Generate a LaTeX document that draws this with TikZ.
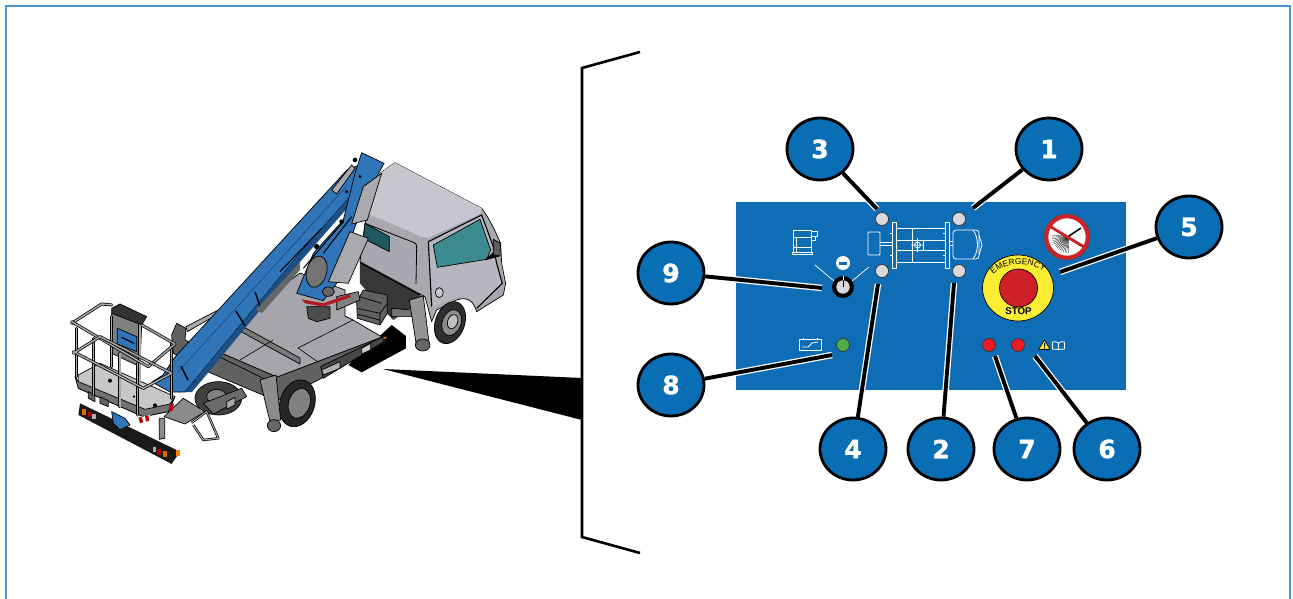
\documentclass[tikz,border=0pt]{standalone}
\usepackage{fontspec}
\setmainfont{Liberation Sans}
\newfontfamily\ballfont[BoldFeatures={FakeBold=1.4}]{DejaVu Sans}
\usetikzlibrary{shapes.geometric,backgrounds,decorations.text}

\definecolor{framec}{HTML}{4F94D8}
\definecolor{panelc}{HTML}{0F6DB5}
\definecolor{ballc}{HTML}{0A6EB4}
\definecolor{ledgrey}{HTML}{D9D9DB}
\definecolor{ledgreen}{HTML}{4FAE4A}
\definecolor{ledred}{HTML}{ED1C24}
\definecolor{stopred}{HTML}{CF2027}
\definecolor{stopyel}{HTML}{FBEC34}
\definecolor{cabtop}{HTML}{C6C7CE}
\definecolor{cabside}{HTML}{A8A9B0}
\definecolor{cabdoor}{HTML}{B6B7BE}
\definecolor{tealf}{HTML}{3B8B90}
\definecolor{tealr}{HTML}{1C5A60}
\definecolor{deckc}{HTML}{A5A5AB}
\definecolor{railc}{HTML}{A9A9AE}
\definecolor{boomc}{HTML}{2F75B8}
\definecolor{boomd}{HTML}{1C4F85}

\tikzset{
  zthree/.style={shift={(280,140)},x=0.3333pt,y=-0.3333pt},
  ztwo/.style={shift={(60,140)},x=0.3333pt,y=-0.3333pt},
  balloon/.style={ellipse,draw=black,line width=2.8pt,fill=ballc,text=white,inner sep=0pt,
    minimum width=66pt,minimum height=62pt,font=\ballfont\fontsize{25}{25}\selectfont\bfseries},
  leader/.style={draw=black,line width=3.9pt,preaction={draw=white,line width=6.4pt}},
  led/.style={circle,draw=black!80,line width=0.7pt,inner sep=0pt,minimum size=13pt},
  icon/.style={draw=white,line width=0.8pt,line join=round},
  part/.style={draw=black,line width=0.7pt,line join=round},
  rail/.style={draw=black,line width=3pt,line join=round,line cap=round,
    postaction={draw=railc,line width=1.5pt}},
}

\begin{document}
\begin{tikzpicture}[x=1pt,y=-1pt]
  \useasboundingbox (0,0) rectangle (1293,599);
  \draw[framec,line width=1.6pt] (6,599) -- (6,6) -- (1290,6) -- (1290,599);

  % ---- truck, cab end
  \begin{scope}[zthree]
    \fill[black] (335,555) -- (378,588) -- (378,625) -- (245,697) -- (205,675) -- cycle;
    \filldraw[part,fill=cabside] (345,68) -- (605,205) .. controls (635,245) and (650,285) .. (662,310)
      -- (665,370) -- (677,430) -- (670,465) -- (590,515) .. controls (580,480) and (560,470) .. (530,480)
      -- (470,510) -- (455,545) -- (435,470) -- (240,365) -- (255,250) -- (300,100) -- cycle;
    \fill[cabtop] (345,68) -- (605,205) -- (600,222) -- (445,293) -- (420,290) .. controls (405,280) and (400,280) .. (385,272)
      -- (265,222) -- (300,100) -- cycle;
    \fill[cabdoor] (445,305) -- (605,225) -- (640,320) -- (665,430) -- (590,505) .. controls (580,470) and (550,465) .. (520,475)
      -- (460,500) -- (452,430) -- cycle;
    \draw[black,line width=1.1pt,line join=round] (445,305) -- (605,225) -- (640,320) -- (650,370) -- (667,430) -- (590,505);
    \draw[black,line width=1.1pt] (445,305) -- (455,500);
    \draw[black,line width=0.8pt] (410,325) .. controls (412,312) and (405,308) .. (395,305) -- (255,250);
    \draw[black,line width=0.8pt] (410,325) -- (408,432);
    \filldraw[part,fill=tealr] (255,250) -- (328,290) -- (328,335) -- (250,295) -- cycle;
    \filldraw[part,fill=tealf] (460,315) -- (600,238) -- (632,330) -- (620,358) -- (472,382) -- cycle;
    \filldraw[part,fill=black] (615,360) -- (640,338) -- (658,348) -- cycle;
    \filldraw[part,fill=black!45!cabside] (640,298) -- (662,310) -- (660,348) -- (640,345) -- cycle;
    \filldraw[part,fill=cabtop] (478,458) ellipse [x radius=12,y radius=15];
    % front wheel
    \filldraw[part,fill=black!82] (510,548) ellipse [x radius=44,y radius=65,rotate=-20];
    \filldraw[part,fill=black!45] (515,548) ellipse [x radius=28,y radius=40,rotate=-20];
    \filldraw[part,fill=black!25] (518,545) ellipse [x radius=15,y radius=22,rotate=-20];
    % underside
    \fill[black!78] (240,365) -- (425,468) -- (415,490) -- (340,540) -- (300,500) -- (240,430) -- cycle;
    \draw[black,line width=1pt] (240,368) -- (420,465);
    \filldraw[part,fill=black!55] (335,505) -- (395,510) -- (395,530) -- (335,530) -- cycle;
    % front outrigger
    \filldraw[part,fill=black!42] (388,480) -- (430,468) -- (447,608) -- (408,608) -- cycle;
    \filldraw[part,fill=black!60] (428,615) ellipse [x radius=22,y radius=18];
    % counterweight
    \filldraw[part,fill=black!62] (230,485) -- (250,450) -- (322,465) -- (322,520) -- (300,555) -- (232,535) -- cycle;
    \draw[black,line width=0.7pt] (232,505) -- (300,520) -- (322,490) (238,470) -- (305,490) (300,520) -- (300,555) (232,522) -- (298,540);
  \end{scope}

  % ---- chassis and deck
  \filldraw[part,fill=black!62] (203,345) -- (277,377) -- (382,337) -- (388,340) -- (322,378) -- (280,400) -- (203,365) -- cycle;
  \filldraw[part,fill=deckc] (203,345) -- (300,273) -- (345,290) -- (345,316) -- (353,320) -- (382,337) -- (277,377) -- cycle;
  \filldraw[part,fill=black!52] (240,325) -- (300,358) -- (300,364) -- (238,330) -- cycle;
  \draw[black,line width=0.6pt] (298,348) -- (353,320) (298,348) -- (318,362) (240,360) -- (273,340);
  \begin{scope}[zthree]
    \filldraw[part,fill=black!72] (122,680) -- (305,592) -- (320,600) -- (130,715) -- cycle;
    \filldraw[part,fill=black!30] (125,690) -- (180,665) -- (180,685) -- (130,705) -- cycle;
    \filldraw[part,fill=orange!85!black] (308,592) -- (320,586) -- (320,596) -- (310,600) -- cycle;
    \filldraw[part,fill=black!20] (245,625) -- (272,610) -- (272,630) -- (245,642) -- cycle;
  \end{scope}

  % ---- truck, rear part
  \begin{scope}[ztwo]
    \filldraw[part,fill=black!75] (475,775) ellipse [x radius=70,y radius=50];
    \filldraw[part,fill=black!50] (470,770) ellipse [x radius=30,y radius=22];
    \filldraw[part,fill=black!58] (430,790) -- (545,745) -- (560,770) -- (460,822) -- cycle;
    \filldraw[part,fill=black!35] (500,785) -- (525,772) -- (525,795) -- (500,808) -- cycle;
    \filldraw[part,fill=black!62] (335,585) -- (350,550) -- (378,565) -- (375,600) -- (620,720) -- (620,770) -- (430,690) -- (340,640) -- cycle;
    \filldraw[part,fill=railc] (378,560) -- (475,510) -- (478,520) -- (382,575) -- cycle;
    % rear wheel
    \filldraw[part,fill=black!85] (712,790) ellipse [x radius=52,y radius=72,rotate=-18];
    \filldraw[part,fill=black!50] (718,790) ellipse [x radius=32,y radius=46,rotate=-18];
    % rear outrigger
    \filldraw[part,fill=black!45] (600,720) -- (648,705) -- (662,840) -- (630,845) -- cycle;
    \filldraw[part,fill=black!60] (642,857) ellipse [x radius=20,y radius=18];
    % steps
    \filldraw[part,fill=black!45] (298,835) -- (314,835) -- (314,895) -- (298,898) -- cycle;
    \filldraw[part,fill=black!45] (370,775) -- (435,815) -- (375,852) -- (312,830) -- cycle;
    \draw[black,line width=2.4pt,line join=round] (395,848) -- (440,815) -- (475,895) -- (430,900) -- (400,855);
    \draw[railc,line width=1pt,line join=round] (395,848) -- (440,815) -- (475,895) -- (430,900) -- (400,855);
    % rear bar
    \fill[black!90] (60,790) -- (360,935) -- (335,972) -- (55,825) -- cycle;
    \fill[orange!85!black] (67,808) rectangle (78,824);
    \fill[red!70!black] (83,815) rectangle (95,832);
    \fill[black!30] (97,822) rectangle (108,838);
    \fill[black!30] (278,920) rectangle (289,936);
    \fill[red!70!black] (292,927) rectangle (304,945);
    \fill[orange!85!black] (308,934) rectangle (320,952);
    \fill[orange] (348,930) rectangle (360,948);
  \end{scope}

  % ---- boom
  \filldraw[part,fill=boomc] (152,382) -- (163,375) -- (175,357) -- (347,170) -- (372,160) -- (350,197) -- (300,253) -- (185,392) -- (170,392) -- cycle;
  \fill[boomd] (185,392) -- (300,253) -- (350,197) -- (350,205) -- (300,262) -- (192,392) -- cycle;
  \draw[boomd,line width=0.8pt] (178,372) -- (345,188);
  \draw[black,line width=1.4pt] (181,366) -- (188,380) (236,311) -- (245,326) (255,292) -- (260,306);
  \fill[black!60] (256,310) -- (300,262) -- (300,270) -- (262,313) -- cycle;

  % ---- riser and turret
  \begin{scope}[zthree]
    \filldraw[part,fill=black!70] (80,500) -- (150,500) -- (150,535) -- (110,545) -- (85,535) -- cycle;
    \filldraw[part,fill=black!50] (170,470) -- (235,455) -- (240,480) -- (170,510) -- cycle;
    \fill[stopred!85!black] (65,478) -- (130,490) -- (210,462) -- (212,472) -- (130,500) -- (75,490) -- cycle;
    \filldraw[part,fill=boomc] (245,38) -- (312,70) -- (290,110) -- (225,260) -- (170,430) -- (130,482) -- (50,460) -- (100,340) -- (190,240) -- (225,100) -- cycle;
    \filldraw[part,fill=railc] (305,100) -- (262,240) -- (215,252) -- (250,140) -- cycle;
    \filldraw[part,fill=railc] (210,275) -- (265,295) -- (205,430) -- (145,425) -- cycle;
    \filldraw[part,fill=black!55] (110,395) ellipse [x radius=30,y radius=48,rotate=-15];
    \filldraw[part,fill=black!60] (145,455) ellipse [x radius=18,y radius=14];
    \filldraw[part,fill=railc] (155,150) -- (215,75) -- (225,85) -- (170,162) -- cycle;
    \fill[black] (225,60) circle [radius=7] (200,155) circle [radius=5] (240,110) circle [radius=5] (110,320) circle [radius=8] (185,245) circle [radius=7];
    \draw[black,line width=1pt] (0,395) -- (125,265) (70,385) -- (190,245) (130,340) -- (215,230);
  \end{scope}

  % ---- basket
  \begin{scope}[ztwo]
    \filldraw[part,fill=black!22] (55,705) -- (120,670) -- (345,770) -- (325,815) -- (250,830) -- (55,745) -- cycle;
    \filldraw[part,fill=black!55] (45,710) -- (55,745) -- (250,830) -- (325,815) -- (345,770) -- (330,792) -- (255,808) -- (55,725) -- cycle;
    \fill[white] (225,835) -- (270,825) -- (272,842) -- (230,852) -- cycle;
    \fill[red!75!black] (235,833) -- (245,831) -- (250,847) -- (240,849) -- cycle (255,828) -- (265,826) -- (268,842) -- (258,845) -- cycle;
    \fill[red!75!black] (328,795) -- (342,790) -- (338,812) -- (328,815) -- cycle;
    \fill[black] (150,722) circle [radius=6] (285,796) circle [radius=6] (222,770) circle [radius=4];
    \filldraw[part,fill=boomc] (155,815) -- (195,835) -- (210,855) -- (180,870) -- (160,850) -- cycle;
    \filldraw[part,fill=black!62] (85,755) -- (105,765) -- (105,785) -- (85,775) -- cycle;
    \filldraw[part,fill=black!62] (120,770) -- (145,782) -- (145,800) -- (120,790) -- cycle;
    % control box
    \filldraw[part,fill=black!80] (155,505) -- (180,492) -- (260,530) -- (245,555) -- (155,520) -- cycle;
    \filldraw[part,fill=black!50] (155,520) -- (245,555) -- (240,680) -- (155,640) -- cycle;
    \filldraw[part,fill=boomc] (172,565) -- (230,590) -- (230,635) -- (172,612) -- cycle;
    \draw[black,line width=1.2pt] (185,592) -- (222,610);
    % rails
    \draw[rail] (50,565) -- (50,710);
    \draw[rail] (100,595) -- (100,765);
    \draw[rail] (180,640) -- (180,800);
    \draw[rail] (232,670) -- (232,825);
    \draw[rail] (335,610) -- (335,775);
    \draw[rail] (240,555) -- (240,740);
    \draw[rail] (155,530) -- (155,680);
    \draw[rail] (35,550) -- (125,492) -- (155,495);
    \draw[rail] (245,555) -- (345,612) -- (265,680) -- (35,545);
    \draw[rail] (40,640) -- (120,590) -- (335,700) -- (250,745) -- (40,635);
  \end{scope}

  % ---- wedge and bracket
  \fill[black] (383,369) -- (582,378) -- (582,420) -- cycle;
  \draw[black,line width=2.6pt,line join=miter] (640,52) -- (582,68) -- (582,537) -- (640,553);

  % ---- panel
  \coordinate (tip1) at (973,208);
  \coordinate (tip2) at (954,283);
  \coordinate (tip3) at (877,209);
  \coordinate (tip4) at (878,284);
  \coordinate (tip5) at (1060,272);
  \coordinate (tip6) at (1035,356);
  \coordinate (tip7) at (995,356);
  \coordinate (tip8) at (832,355);
  \coordinate (tip9) at (822,288);

  \foreach \n/\x/\y in {1/1049/149,2/941/449,3/820/149,4/853/449,5/1189/227,6/1107/449,7/1027/449,8/671/385,9/671/273}
    \node[balloon] (ball\n) at (\x,\y) {\n};

  \begin{scope}[on background layer]
    \fill[panelc] (736,202) rectangle (1126,390);
    \foreach \n in {1,...,9}
      \draw[leader] (ball\n) -- (tip\n);
  \end{scope}

  \node[led,fill=ledgrey] (ledfl) at (882,219) {};
  \node[led,fill=ledgrey] (ledfr) at (959,219) {};
  \node[led,fill=ledgrey] (ledrl) at (882,271) {};
  \node[led,fill=ledgrey] (ledrr) at (959,271) {};
  \node[led,fill=ledgreen] (ledbat) at (843,345) {};
  \node[led,fill=ledred] (ledone) at (989,345) {};
  \node[led,fill=ledred] (ledtwo) at (1018,345) {};

  % key switch
  \draw[white,line width=0.7pt] (815,265) -- (834,281) (869,267) -- (852,281);
  \node[circle,fill=black,inner sep=0pt,minimum size=22pt] (keyout) at (843,287) {};
  \node[circle,fill=ledgrey,draw=black,inner sep=0pt,minimum size=14pt] (keyin) at (843,287) {};
  \draw[black,line width=1pt] (843,287) -- (843,281);
  \draw[white,line width=0.9pt] (843,276) -- (843,280);
  \fill[white] (843,263) circle [radius=7];
  \fill[panelc] (839,262) rectangle (847,264.5);

  % chassis icon
  \draw[icon,rounded corners=1pt] (868,232) rectangle (880,255);
  \draw[icon] (880,242) -- (892,242) (880,245) -- (892,245) (949,241) -- (953,241) (949,245) -- (953,245);
  \draw[icon] (896,228) rectangle (945,262);
  \draw[icon] (896,240) -- (945,240) (896,250) -- (945,250);
  \draw[icon] (912,228) -- (912,262);
  \draw[icon] (892,222) rectangle (896,268);
  \draw[icon] (945,222) rectangle (949,268);
  \draw[icon] (890,233) -- (892,233) (890,255) -- (892,255) (943,233) -- (945,233) (943,255) -- (945,255);
  \draw[icon,fill=panelc] (912,240) rectangle (923,250);
  \draw[icon] (917.5,245) circle [radius=3] (917.5,238) -- (917.5,252) (911,245) -- (924,245);
  \draw[icon,rounded corners=3pt] (953,230) rectangle (979,259);
  \draw[icon] (973,230) .. controls (979,238) and (979,251) .. (973,259);
  \draw[icon] (979,235) -- (982,245) -- (979,255);

  % lift icon
  \draw[icon] (793,230) rectangle (811,252);
  \draw[icon] (793,237) -- (811,237) (793,247) -- (811,247) (796,237) -- (796,252);
  \draw[icon] (811,231) -- (817,231) -- (817,236) -- (811,236) (811,236) -- (815,236) -- (815,240) -- (811,240);
  \draw[icon] (792,252) rectangle (812,254.5);

  % battery icon
  \draw[icon] (799,339) rectangle (821,350);
  \draw[icon] (803,337.5) -- (803,339) (817,337.5) -- (817,339);
  \draw[icon] (802,347) -- (808,347) -- (812,343) -- (818,342);

  % warning and book
  \filldraw[draw=black,fill=stopyel,line width=0.6pt,line join=round] (1038.5,349.5) -- (1044.5,340) -- (1050,349.5) -- cycle;
  \fill[black] (1044,343) rectangle (1045,346.5) (1044,347.3) rectangle (1045,348.5);
  \draw[icon] (1058.5,343) .. controls (1056.5,341.5) and (1054.5,341.5) .. (1052.5,342) -- (1052.5,349) -- (1058.5,349.5) -- (1064.5,349) -- (1064.5,342) .. controls (1062.5,341.5) and (1060.5,341.5) .. (1058.5,343) -- (1058.5,349.5);

  % no sweeping sign
  \node[circle,draw=black!70,line width=0.6pt,fill=white,inner sep=0pt,minimum size=46pt] (signout) at (1067,237) {};
  \foreach \a in {92,98,...,182}
    \draw[black,line width=0.3pt] (1069,236) -- ++(\a:17);
  \draw[black,line width=1.6pt] (1069,236) -- (1081,228);
  \draw[stopred,line width=2.8pt] (1051,227) -- (1084,247);
  \draw[stopred,line width=4.2pt] (1067,237) circle [radius=20.8];
  \draw[black!70,line width=0.6pt] (1067,237) circle [radius=23];

  % stop button
  \node[ellipse,draw=black,line width=0.7pt,fill=stopyel,inner sep=0pt,minimum width=71pt,minimum height=66pt] (estop) at (1018,288) {};
  \node[circle,draw=black,line width=0.7pt,fill=stopred,inner sep=0pt,minimum size=38pt] (ebutton) at (1018.5,288) {};
  \path[decorate,decoration={text along path,text align=center,
    text={|\fontsize{8.4}{8.4}\selectfont|EMERGENCY}}]
    (990,278) .. controls (1002,260.4) and (1035,260.4) .. (1047,275);
  \node[font=\fontsize{9.8}{10}\selectfont\bfseries,inner sep=0pt] (stoplab) at (1018.5,311.5) {STOP};
\end{tikzpicture}
\end{document}
